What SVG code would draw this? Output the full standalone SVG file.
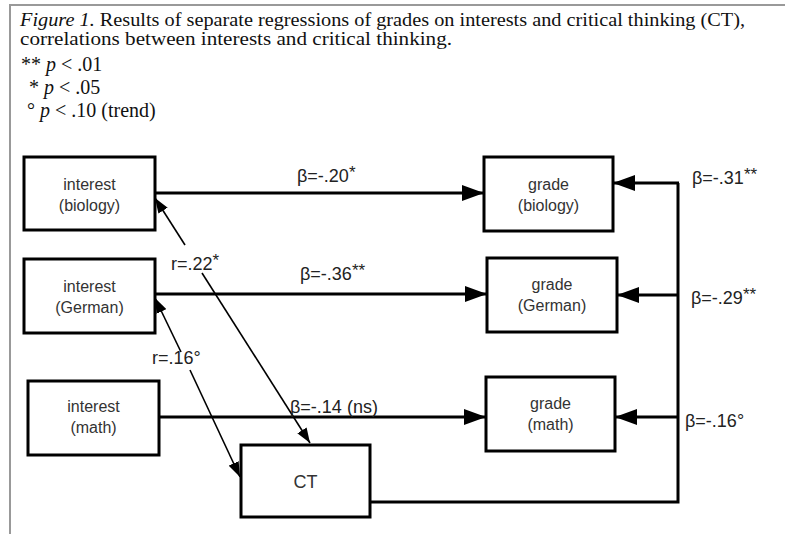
<svg xmlns="http://www.w3.org/2000/svg" width="785" height="534" viewBox="0 0 785 534">
<defs>
<style>
.cap{font-family:"Liberation Serif","Times New Roman",serif;font-size:19px;fill:#111}
.leg{font-family:"Liberation Serif","Times New Roman",serif;font-size:20px;fill:#111}
.box{fill:#fff;stroke:#000;stroke-width:3}
.bt{font-family:"Liberation Sans",Arial,sans-serif;font-size:16px;fill:#333;text-anchor:middle}
.lab{font-family:"Liberation Sans",Arial,sans-serif;font-size:18px;fill:#222}
.sup{font-size:17px}
.big{stroke:#000;stroke-width:3;fill:none}
.thin{stroke:#000;stroke-width:1.6;fill:none}
</style>
<marker id="ah" viewBox="0 0 22 16" refX="22" refY="8" markerWidth="22" markerHeight="16" markerUnits="userSpaceOnUse" orient="auto">
<path d="M0,0 L22,8 L0,16 Z" fill="#000"/>
</marker>
<marker id="ahs" viewBox="0 0 15 11" refX="15" refY="5.5" markerWidth="15" markerHeight="11" markerUnits="userSpaceOnUse" orient="auto">
<path d="M0,0 L15,5.5 L0,11 Z" fill="#000"/>
</marker>
<marker id="ahsr" viewBox="0 0 15 11" refX="0" refY="5.5" markerWidth="15" markerHeight="11" markerUnits="userSpaceOnUse" orient="auto">
<path d="M15,0 L0,5.5 L15,11 Z" fill="#000"/>
</marker>
</defs>
<rect width="785" height="534" fill="#fff"/>
<path d="M10,534 L10,5 L785,5" fill="none" stroke="#999" stroke-width="2"/>
<g id="caption">
<text class="cap" x="20" y="26" textLength="725" lengthAdjust="spacingAndGlyphs"><tspan font-style="italic">Figure 1.</tspan> Results of separate regressions of grades on interests and critical thinking (CT),</text>
<text class="cap" x="20" y="45" textLength="432" lengthAdjust="spacingAndGlyphs">correlations between interests and critical thinking.</text>
<text class="leg" x="21" y="71">** <tspan font-style="italic">p</tspan> &lt; .01</text>
<text class="leg" x="29" y="94">* <tspan font-style="italic">p</tspan> &lt; .05</text>
<text class="leg" x="27" y="117">° <tspan font-style="italic">p</tspan> &lt; .10 (trend)</text>
</g>
<g id="connectors">
<line class="big" x1="155" y1="193" x2="484" y2="193" marker-end="url(#ah)"/>
<line class="big" x1="155" y1="294" x2="487" y2="294" marker-end="url(#ah)"/>
<line class="big" x1="159" y1="417" x2="486" y2="417" marker-end="url(#ah)"/>
<path class="big" d="M370,502 L678,502 L678,183"/>
<line class="big" x1="679" y1="183" x2="613" y2="183" marker-end="url(#ah)"/>
<line class="big" x1="679" y1="295" x2="617" y2="295" marker-end="url(#ah)"/>
<line class="big" x1="679" y1="417" x2="615" y2="417" marker-end="url(#ah)"/>
<line class="thin" x1="155" y1="198" x2="185" y2="245" marker-start="url(#ahsr)"/>
<line class="thin" x1="202" y1="273" x2="310" y2="443" marker-end="url(#ahs)"/>
<line class="thin" x1="155" y1="298" x2="181" y2="352" marker-start="url(#ahsr)"/>
<line class="thin" x1="190" y1="370" x2="240" y2="477" marker-end="url(#ahs)"/>
<text class="lab" x="297" y="182">β=-.20<tspan class="sup" dy="-4">*</tspan></text>
<text class="lab" x="300" y="280">β=-.36<tspan class="sup" dy="-4">**</tspan></text>
<text class="lab" x="290" y="413">β=-.14 (ns)</text>
<text class="lab" x="692" y="184">β=-.31<tspan class="sup" dy="-4">**</tspan></text>
<text class="lab" x="691" y="304">β=-.29<tspan class="sup" dy="-4">**</tspan></text>
<text class="lab" x="685" y="427">β=-.16°</text>
<text class="lab" x="171" y="270">r=.22<tspan class="sup" dy="-4">*</tspan></text>
<text class="lab" x="152" y="364">r=.16°</text>
</g>
<g id="interest-biology">
<rect class="box" x="24" y="157" width="131" height="73"/>
<text class="bt" x="89.5" y="190">interest</text>
<text class="bt" x="89.5" y="211">(biology)</text>
</g>
<g id="interest-german">
<rect class="box" x="24" y="259" width="131" height="74"/>
<text class="bt" x="89.5" y="292">interest</text>
<text class="bt" x="89.5" y="313">(German)</text>
</g>
<g id="interest-math">
<rect class="box" x="28" y="381" width="131" height="74"/>
<text class="bt" x="93.5" y="412">interest</text>
<text class="bt" x="93.5" y="433">(math)</text>
</g>
<g id="grade-biology">
<rect class="box" x="484" y="157" width="129" height="74"/>
<text class="bt" x="548.5" y="190">grade</text>
<text class="bt" x="548.5" y="211">(biology)</text>
</g>
<g id="grade-german">
<rect class="box" x="487" y="258" width="130" height="74"/>
<text class="bt" x="552" y="290">grade</text>
<text class="bt" x="552" y="311">(German)</text>
</g>
<g id="grade-math">
<rect class="box" x="486" y="377" width="129" height="74"/>
<text class="bt" x="550.5" y="409">grade</text>
<text class="bt" x="550.5" y="430">(math)</text>
</g>
<g id="ct">
<rect class="box" x="241" y="445" width="129" height="72"/>
<text class="bt" x="305.5" y="488" style="font-size:18px">CT</text>
</g>
</svg>
